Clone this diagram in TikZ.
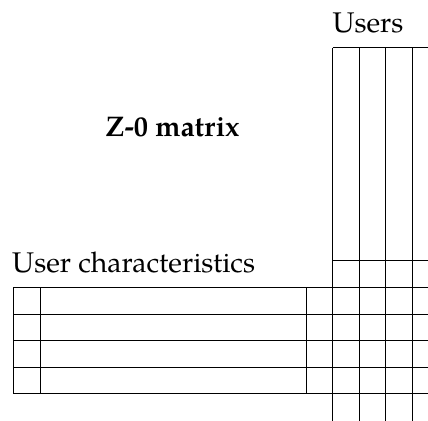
\documentclass[tikz,border=0pt]{standalone}
\usepackage{fontspec}
\setmainfont{TeX Gyre Pagella}
\begin{document}
\begin{tikzpicture}[x=1pt,y=-1pt,
  gridline/.style={line width=0.8pt, black},
  caption/.style={inner sep=0pt, font=\fontsize{28.4}{34}\selectfont}]
\useasboundingbox (0,0) rectangle (428,420);
\clip (0,0) rectangle (428,420);
% cell grid: 26.6pt cells, origin at the top-left of the characteristics block
\begin{scope}[shift={(13.3,287.3)}, x=26.6pt, y=-26.6pt]
  % user columns
  \foreach \i in {12,...,16} \draw[gridline] (\i,-9) -- (\i,6);
  \draw[gridline] (12,-9) -- (17,-9);
  \draw[gridline] (12,-1) -- (17,-1);
  % characteristic rows
  \foreach \j in {0,...,4} \draw[gridline] (0,\j) -- (17,\j);
  \foreach \i in {0,1,11} \draw[gridline] (\i,0) -- (\i,4);
\end{scope}
\node[caption, anchor=base] (users) at (368,32.7) {Users};
\node[caption, anchor=base west] (chars) at (12,272.7) {User characteristics};
\node[caption, anchor=base, font=\fontsize{28.4}{34}\selectfont\bfseries] (zmat) at (172.5,136.7) {Z-0 matrix};
\end{tikzpicture}
\end{document}
